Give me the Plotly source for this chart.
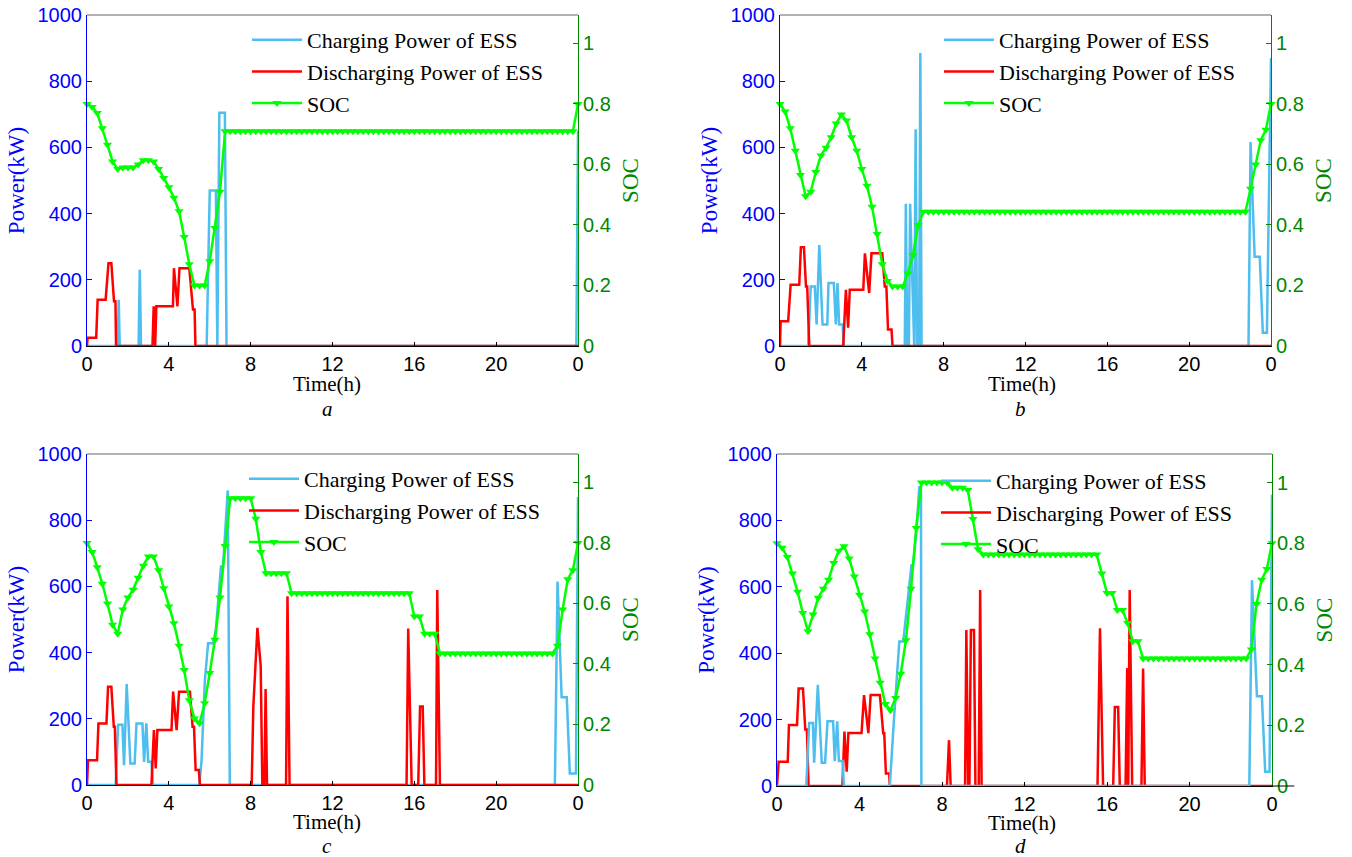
import plotly.graph_objects as go

# ---------------- data ----------------
hours_ticks = [0, 4, 8, 12, 16, 20, 24]
hours_ticktext = ["0", "4", "8", "12", "16", "20", "0"]
power_ticks = [0, 200, 400, 600, 800, 1000]
soc_ticks = [0, 0.2, 0.4, 0.6, 0.8, 1.0]
soc_ticktext = ["0", "0.2", "0.4", "0.6", "0.8", "1"]

# SOC sampled every 15 min (97 samples, 0..24 h)
soc_time = [i * 0.25 for i in range(97)]

soc_a = ([0.80, 0.79, 0.77, 0.72, 0.665, 0.61, 0.585, 0.59, 0.59, 0.59, 0.60, 0.614, 0.614, 0.61,
          0.585, 0.555, 0.525, 0.49, 0.445, 0.36, 0.27, 0.20, 0.20, 0.20, 0.28, 0.39, 0.51, 0.71]
         + [0.71] * 68 + [0.80])
soc_b = ([0.80, 0.775, 0.72, 0.645, 0.565, 0.495, 0.51, 0.575, 0.63, 0.655, 0.69, 0.735, 0.765, 0.745,
          0.69, 0.645, 0.585, 0.53, 0.46, 0.37, 0.27, 0.215, 0.197, 0.197, 0.197, 0.24, 0.30, 0.40]
         + [0.444] * 64 + [0.52, 0.60, 0.68, 0.715, 0.80])
soc_c = ([0.80, 0.77, 0.72, 0.665, 0.60, 0.53, 0.50, 0.58, 0.62, 0.645, 0.685, 0.725, 0.755, 0.755,
          0.71, 0.65, 0.59, 0.535, 0.46, 0.38, 0.28, 0.22, 0.204, 0.27, 0.37, 0.48, 0.62, 0.79]
         + [0.948] * 5 + [0.88, 0.77] + [0.70] * 5 + [0.634] * 24 + [0.557] * 2 + [0.50] * 3
         + [0.435] * 23 + [0.46, 0.58, 0.68, 0.71, 0.80])
soc_d = ([0.80, 0.785, 0.755, 0.70, 0.64, 0.57, 0.51, 0.565, 0.62, 0.65, 0.68, 0.735, 0.775, 0.79,
          0.75, 0.69, 0.63, 0.575, 0.50, 0.42, 0.34, 0.27, 0.25, 0.29, 0.37, 0.48, 0.65, 0.85]
         + [1.0] * 6 + [0.983] * 3 + [0.975, 0.88, 0.78] + [0.763] * 23 + [0.70] + [0.636] * 2
         + [0.58] * 2 + [0.537] + [0.477] * 2 + [0.42] * 21 + [0.45, 0.60, 0.68, 0.715, 0.80])

# Charging / discharging power breakpoints (h, kW)
ch_a_t = [0, 1.5, 1.55, 1.6, 2.52, 2.58, 2.64, 5.85, 6.0, 6.3, 6.37, 6.47, 6.74, 6.82, 23.92, 24]
ch_a_p = [0, 0, 140, 0, 0, 230, 0, 0, 470, 470, 0, 705, 705, 0, 0, 650]
dis_a_t = [0, 0.03, 0.45, 0.52, 0.91, 1.05, 1.19, 1.32, 1.39, 1.42, 3.2, 3.26, 3.33, 3.39,
           4.2, 4.25, 4.42, 4.52, 5.0, 5.18, 5.26, 5.3, 24]
dis_a_p = [0, 25, 25, 140, 140, 250, 250, 135, 135, 0, 0, 120, 0, 120,
           120, 235, 120, 235, 235, 110, 110, 0, 0]

ch_b_t = [0, 1.38, 1.5, 1.7, 1.79, 1.92, 2.08, 2.31, 2.37, 2.63, 2.73, 2.81, 2.89, 3.06, 3.12,
          6.1, 6.15, 6.22, 6.3, 6.36, 6.56, 6.63, 6.7, 6.8, 6.86, 6.92, 22.9, 23.0, 23.2, 23.45,
          23.6, 23.8, 24]
ch_b_p = [0, 0, 180, 180, 65, 305, 65, 65, 190, 190, 65, 190, 65, 65, 0,
          0, 430, 0, 0, 430, 0, 655, 0, 0, 885, 0, 0, 616, 270, 270,
          40, 40, 870]
dis_b_t = [0, 0.03, 0.4, 0.52, 0.94, 1.02, 1.17, 1.27, 1.33, 1.43, 3.09, 3.22, 3.33, 3.41,
           4.07, 4.15, 4.36, 4.47, 5.0, 5.12, 5.2, 5.28, 5.45, 5.5, 24]
dis_b_p = [0, 75, 75, 185, 185, 298, 298, 180, 180, 0, 0, 170, 55, 170,
           170, 280, 160, 280, 280, 180, 180, 50, 50, 0, 0]

ch_c_t = [0, 1.4, 1.52, 1.73, 1.81, 1.94, 2.12, 2.33, 2.42, 2.71, 2.79, 2.9, 2.99, 3.15, 3.23,
          5.49, 5.6, 5.76, 5.92, 6.17, 6.3, 6.55, 6.65, 6.88, 6.98, 22.87, 23.0, 23.2, 23.45,
          23.6, 23.9, 24]
ch_c_p = [0, 0, 182, 182, 60, 305, 65, 65, 186, 186, 70, 186, 70, 70, 0,
          0, 75, 315, 428, 428, 470, 660, 660, 890, 0, 0, 615, 265, 265,
          35, 35, 870]
dis_c_t = [0, 0.05, 0.49, 0.56, 0.95, 1.03, 1.19, 1.31, 1.36, 1.44, 3.15, 3.27, 3.36, 3.44,
           4.13, 4.21, 4.38, 4.5, 5.03, 5.16, 5.23, 5.31, 5.47, 5.52,
           8.05, 8.13, 8.33, 8.49, 8.57, 8.67, 8.73, 8.8, 9.73, 9.8, 9.9,
           15.62, 15.7, 15.87, 16.19, 16.28, 16.41, 16.49, 17.06, 17.12, 17.25, 24]
dis_c_p = [0, 75, 75, 186, 186, 297, 297, 176, 176, 0, 0, 166, 50, 166,
           166, 282, 166, 282, 282, 176, 176, 45, 45, 0,
           0, 237, 475, 360, 0, 0, 290, 0, 0, 570, 0,
           0, 473, 0, 0, 237, 237, 0, 0, 589, 0, 0]

ch_d_t = [0, 1.42, 1.56, 1.74, 1.8, 1.98, 2.17, 2.33, 2.45, 2.72, 2.8, 2.92, 3.0, 3.18, 3.24,
          5.47, 5.67, 5.8, 5.93, 6.12, 6.52, 6.6, 6.76, 6.9, 6.98, 7.0, 22.9, 23.03, 23.27, 23.51,
          23.67, 23.88, 24]
ch_d_p = [0, 0, 190, 190, 70, 305, 70, 70, 195, 195, 75, 195, 75, 75, 0,
          0, 200, 320, 435, 435, 665, 665, 770, 900, 900, 0, 0, 620, 270, 270,
          43, 43, 877]
dis_d_t = [0, 0.08, 0.52, 0.58, 0.97, 1.05, 1.26, 1.37, 1.45, 1.53, 3.17, 3.27, 3.38, 3.46,
           4.1, 4.22, 4.43, 4.54, 4.99, 5.15, 5.2, 5.28, 5.44, 5.47,
           8.24, 8.34, 8.42, 9.12, 9.18, 9.27, 9.33, 9.4, 9.55, 9.62, 9.78, 9.85, 9.92,
           15.54, 15.66, 15.81, 16.3, 16.38, 16.54, 16.62, 16.9, 16.98, 17.03, 17.1, 17.22,
           17.67, 17.75, 17.83, 24]
dis_d_p = [0, 73, 73, 184, 184, 294, 294, 170, 170, 0, 0, 164, 43, 160,
           160, 274, 159, 274, 274, 159, 159, 38, 38, 0,
           0, 138, 0, 0, 470, 0, 0, 470, 470, 0, 0, 590, 0,
           0, 475, 0, 0, 238, 238, 0, 0, 355, 0, 590, 0,
           0, 354, 0, 0]

# ---------------- style ----------------
W, H = 1352, 857
C_CH = "#4DBEEE"
C_DIS = "#FF0000"
C_SOC = "#00FF00"
C_LEFT = "#0000FF"
C_RIGHT = "#008800"
SERIF = "Liberation Serif, Times New Roman, serif"
SANS = "Liberation Sans, Arial, sans-serif"


def px_x(p):
    return p / W


def px_y(p):
    return 1 - p / H


panels = [
    dict(label="a", x="x", y="y", y2="y2", xk="xaxis", yk="yaxis", y2k="yaxis2", leg="legend",
         xd=(87, 578), yd=(15, 346), soc=soc_a, ch=(ch_a_t, ch_a_p), dis=(dis_a_t, dis_a_p),
         dis_first=False, legpos=(247, 19), tt=(327, 384), lab=(327, 409)),
    dict(label="b", x="x2", y="y3", y2="y4", xk="xaxis2", yk="yaxis3", y2k="yaxis4", leg="legend2",
         xd=(780, 1271), yd=(15, 346), soc=soc_b, ch=(ch_b_t, ch_b_p), dis=(dis_b_t, dis_b_p),
         dis_first=False, legpos=(939, 19), tt=(1022, 384), lab=(1020, 409)),
    dict(label="c", x="x3", y="y5", y2="y6", xk="xaxis3", yk="yaxis5", y2k="yaxis6", leg="legend3",
         xd=(87, 578), yd=(454, 785), soc=soc_c, ch=(ch_c_t, ch_c_p), dis=(dis_c_t, dis_c_p),
         dis_first=False, legpos=(244, 458), tt=(327, 822), lab=(327, 846)),
    dict(label="d", x="x4", y="y7", y2="y8", xk="xaxis4", yk="yaxis7", y2k="yaxis8", leg="legend4",
         xd=(777, 1272), yd=(454, 786), soc=soc_d, ch=(ch_d_t, ch_d_p), dis=(dis_d_t, dis_d_p),
         dis_first=True, legpos=(936, 460), tt=(1022, 823), lab=(1020, 846)),
]

fig = go.Figure()
layout = dict(width=W, height=H, margin=dict(l=0, r=0, t=0, b=0, autoexpand=False),
              paper_bgcolor="white", plot_bgcolor="white", showlegend=True)
shapes = []
annotations = []

for p in panels:
    ch_tr = go.Scatter(x=p["ch"][0], y=p["ch"][1], mode="lines", name="Charging Power of ESS",
                       line=dict(color=C_CH, width=2.5), xaxis=p["x"], yaxis=p["y"],
                       legend=p["leg"], legendrank=1, cliponaxis=False)
    dis_tr = go.Scatter(x=p["dis"][0], y=p["dis"][1], mode="lines", name="Discharging Power of ESS",
                        line=dict(color=C_DIS, width=2.5), xaxis=p["x"], yaxis=p["y"],
                        legend=p["leg"], legendrank=2, cliponaxis=False)
    if p["dis_first"]:
        fig.add_trace(dis_tr)
        fig.add_trace(ch_tr)
    else:
        fig.add_trace(ch_tr)
        fig.add_trace(dis_tr)
    fig.add_trace(go.Scatter(x=soc_time, y=p["soc"], mode="lines+markers", name="SOC",
                             line=dict(color=C_SOC, width=2.5),
                             marker=dict(symbol="triangle-down", size=8, color=C_SOC),
                             xaxis=p["x"], yaxis=p["y2"], legend=p["leg"], legendrank=3,
                             cliponaxis=False))

    ydom = [px_y(p["yd"][1]), px_y(p["yd"][0])]
    layout[p["xk"]] = dict(
        domain=[px_x(p["xd"][0]), px_x(p["xd"][1])], range=[0, 24], anchor=p["y"],
        tickvals=hours_ticks, ticktext=hours_ticktext, ticks="inside", ticklen=4,
        tickcolor="black", showline=True, linecolor="black", linewidth=1,
        showgrid=False, zeroline=False, automargin=False,
        tickfont=dict(family=SANS, size=20, color="black"))
    layout[p["yk"]] = dict(
        domain=ydom, range=[0, 1000], anchor=p["x"], tickvals=power_ticks,
        ticks="inside", ticklen=5, tickcolor=C_LEFT, showline=True, linecolor=C_LEFT,
        linewidth=1, showgrid=False, zeroline=False, automargin=False,
        tickfont=dict(family=SANS, size=20, color=C_LEFT),
        title=dict(text="Power(kW)", font=dict(family=SERIF, size=23, color=C_LEFT), standoff=6))
    layout[p["y2k"]] = dict(
        overlaying=p["y"], side="right", anchor=p["x"], range=[0, 1.094],
        tickvals=soc_ticks, ticktext=soc_ticktext, ticks="inside", ticklen=5,
        tickcolor=C_RIGHT, showline=True, linecolor=C_RIGHT, linewidth=1,
        showgrid=False, zeroline=False, automargin=False,
        tickfont=dict(family=SANS, size=20, color=C_RIGHT),
        title=dict(text="SOC", font=dict(family=SERIF, size=23, color=C_RIGHT), standoff=12))
    layout[p["leg"]] = dict(
        x=px_x(p["legpos"][0]), y=px_y(p["legpos"][1]), xanchor="left", yanchor="top",
        bgcolor="rgba(0,0,0,0)", borderwidth=0, itemwidth=50, tracegroupgap=0,
        font=dict(family=SERIF, size=22, color="black"))
    shapes.append(dict(type="line", xref=p["x"] + " domain", yref=p["y"] + " domain",
                       x0=0, x1=1, y0=1, y1=1, line=dict(color="#666666", width=1)))
    annotations.append(dict(text="Time(h)", xref="paper", yref="paper",
                            x=px_x(p["tt"][0]), y=px_y(p["tt"][1]), showarrow=False,
                            xanchor="center", yanchor="middle",
                            font=dict(family=SERIF, size=21, color="black")))
    annotations.append(dict(text="<i>" + p["label"] + "</i>", xref="paper", yref="paper",
                            x=px_x(p["lab"][0]), y=px_y(p["lab"][1]), showarrow=False,
                            xanchor="center", yanchor="middle",
                            font=dict(family=SERIF, size=21, color="black")))

# extended bottom axis line in panel d
shapes.append(dict(type="line", xref="x4 domain", yref="y7 domain", x0=1, x1=1.045, y0=0, y1=0,
                   line=dict(color="black", width=1)))

layout["shapes"] = shapes
layout["annotations"] = annotations
fig.update_layout(**layout)
fig.write_html("out.html", config={"displayModeBar": False},
               post_script="document.body.style.margin='0';document.body.style.padding='0';"
                           "document.body.style.overflow='hidden';")
